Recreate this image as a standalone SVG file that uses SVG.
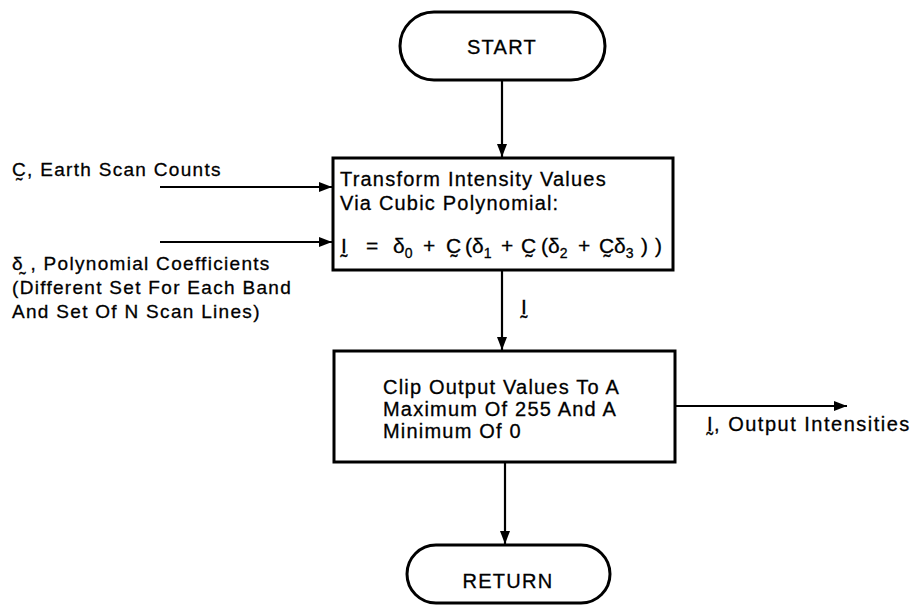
<svg xmlns="http://www.w3.org/2000/svg" width="912" height="613" viewBox="0 0 912 613">
  <style>
    text { font-family: "Liberation Sans", "DejaVu Sans", Arial, sans-serif; fill: #000; stroke: #000; stroke-width: 0.3; }
    .lbl { font-size: 19px; letter-spacing: 1.3px; }
    .in { font-size: 20px; letter-spacing: 1.2px; }
    .out { font-size: 20px; letter-spacing: 1.5px; }
    .term { font-size: 20px; letter-spacing: 1.3px; }
    .eq { font-size: 21px; }
    .sub { font-size: 14px; }
    .box { fill: #fff; stroke: #000; stroke-width: 3; }
    .wire { fill: none; stroke: #000; stroke-width: 2.2; }
  </style>
  <defs>
    <marker id="arrow" viewBox="0 0 13 10" refX="13" refY="5" markerWidth="13" markerHeight="10" markerUnits="userSpaceOnUse" orient="auto">
      <path d="M0,0 L13,5 L0,10 Z" fill="#000"/>
    </marker>
  </defs>
  <rect width="912" height="613" fill="#fff"/>

  <!-- connectors -->
  <g id="connectors">
    <line class="wire" x1="502" y1="80" x2="502" y2="157" marker-end="url(#arrow)"/>
    <line class="wire" x1="160" y1="187" x2="332" y2="187" marker-end="url(#arrow)"/>
    <line class="wire" x1="160" y1="242" x2="332" y2="242" marker-end="url(#arrow)"/>
    <line class="wire" x1="502" y1="270" x2="502" y2="350" marker-end="url(#arrow)"/>
    <line class="wire" x1="675" y1="406" x2="847" y2="406" marker-end="url(#arrow)"/>
    <line class="wire" x1="505" y1="462" x2="505" y2="544" marker-end="url(#arrow)"/>
  </g>

  <!-- start terminal -->
  <g id="start">
    <rect class="box" x="400" y="12" width="205" height="68" rx="34" ry="34"/>
    <text class="term" x="502" y="54" text-anchor="middle">START</text>
  </g>

  <!-- polynomial transform step -->
  <g id="transform">
    <rect class="box" x="333" y="158" width="340" height="112"/>
    <text class="in" x="340" y="186">Transform Intensity Values</text>
    <text class="in" x="340" y="210">Via Cubic Polynomial:</text>
    <text class="eq" x="341" y="253">I&#x330;</text>
    <text class="eq" x="366" y="253">=</text>
    <text class="eq" x="393" y="253">δ<tspan class="sub" dy="5">0</tspan></text>
    <text class="eq" x="423" y="253">+</text>
    <text class="eq" x="446" y="253">C&#x330;</text>
    <text class="eq" x="465" y="253">(δ<tspan class="sub" dy="5">1</tspan></text>
    <text class="eq" x="501" y="253">+</text>
    <text class="eq" x="521" y="253">C&#x330;</text>
    <text class="eq" x="541" y="253">(δ<tspan class="sub" dy="5">2</tspan></text>
    <text class="eq" x="578" y="253">+</text>
    <text class="eq" x="599" y="253">C&#x330;</text>
    <text class="eq" x="614" y="253">δ<tspan class="sub" dy="5">3</tspan></text>
    <text class="eq" x="641" y="253">)</text>
    <text class="eq" x="655" y="253">)</text>
  </g>

  <!-- inputs -->
  <g id="input-counts">
    <text class="lbl" x="12" y="176">C&#x330;, Earth Scan Counts</text>
  </g>
  <g id="input-coefficients">
    <text class="lbl" x="12" y="270">δ&#x330; , Polynomial Coefficients</text>
    <text class="lbl" x="12" y="294">(Different Set For Each Band</text>
    <text class="lbl" x="12" y="318">And Set Of N Scan Lines)</text>
  </g>

  <!-- intermediate vector label -->
  <g id="label-i">
    <text class="eq" x="521" y="314">I&#x330;</text>
  </g>

  <!-- clipping step -->
  <g id="clip">
    <rect class="box" x="334" y="351" width="341" height="111"/>
    <text class="in" x="383" y="394">Clip Output Values To A</text>
    <text class="in" x="383" y="416">Maximum Of 255 And A</text>
    <text class="in" x="383" y="438">Minimum Of 0</text>
  </g>

  <!-- output -->
  <g id="output">
    <text class="out" x="707" y="431">I&#x330;, Output Intensities</text>
  </g>

  <!-- return terminal -->
  <g id="return">
    <rect class="box" x="407" y="545" width="203" height="58" rx="29" ry="29"/>
    <text class="term" x="508" y="588" text-anchor="middle">RETURN</text>
  </g>
</svg>
